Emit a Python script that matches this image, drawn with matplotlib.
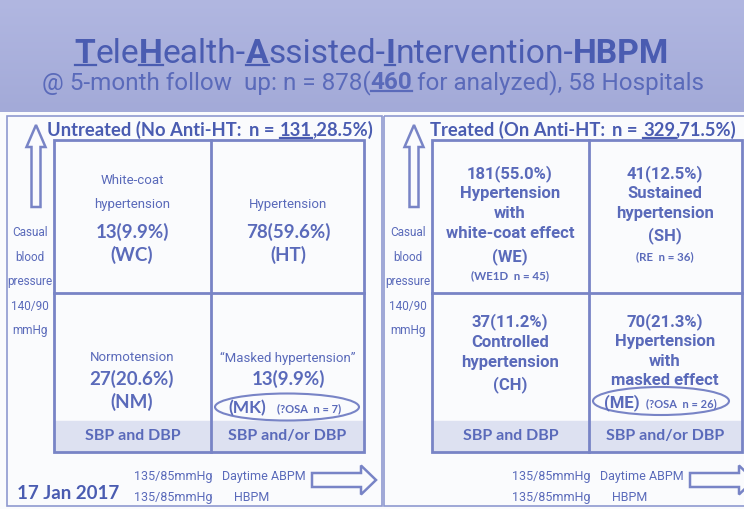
import matplotlib
matplotlib.use('Agg')
import matplotlib.pyplot as plt
import numpy as np
from matplotlib.colors import LinearSegmentedColormap
from matplotlib.patches import Rectangle, Ellipse, FancyArrow

# Data
group_names = ['Untreated (No Anti-HT:', 'Treated (On Anti-HT:']
group_n = [131, 329]
group_pct = [28.5, 71.5]
total_n = 878
analyzed_n = 460
hospitals = 58

untreated_names = [['White-coat', 'hypertension'], ['Hypertension'], ['Normotension'], ['\u201cMasked hypertension\u201d']]
untreated_codes = ['WC', 'HT', 'NM', 'MK']
untreated_counts = [13, 78, 27, 13]
untreated_pct = [9.9, 59.6, 20.6, 9.9]

treated_names = [['Hypertension', 'with', 'white-coat effect'], ['Sustained', 'hypertension'],
                 ['Controlled', 'hypertension'], ['Hypertension', 'with', 'masked effect']]
treated_codes = ['WE', 'SH', 'CH', 'ME']
treated_counts = [181, 41, 37, 70]
treated_pct = [55.0, 12.5, 11.2, 21.3]

osa_n = [7, 26]
we1d_n = 45
re_n = 36
strip_labels = ['SBP and DBP', 'SBP and/or DBP']
side_label = ['Casual', 'blood', 'pressure', '140/90', 'mmHg']

BLUE = '#4a5cb1'
LIGHT = '#5a6aba'
LINE = '#7884c6'
NARROW = ['Roboto', 'DejaVu Sans']
CAL = ['Lato', 'DejaVu Sans']

fig = plt.figure(figsize=(7.44, 5.10), dpi=100)
fig.patch.set_facecolor('#fafbfd')
ax = fig.add_axes([0, 0, 1, 1])
renderer = fig.canvas.get_renderer()


def T(x, y, s, width=None, fontsize=10, **kw):
    # text whose size is fitted to a target width in pixels
    opts = dict(ha='center', va='center', color=LIGHT, zorder=4)
    opts.update(kw)
    t = ax.text(x, y, s, fontsize=fontsize, **opts)
    if width:
        w = t.get_window_extent(renderer).width
        t.set_fontsize(fontsize * width / w)
    return t


def runs(xc, y, parts, width=None, fontsize=12, **common):
    # parts: (text, extra kwargs, underline, gap before)
    items = []
    for s, kw, ul, gap in parts:
        opts = dict(common)
        opts.update(kw)
        items.append([ax.text(0, y, s, va='baseline', ha='left', fontsize=fontsize, **opts), 0, ul, gap])

    def measure():
        for it in items:
            it[1] = it[0].get_window_extent(renderer).width
        return sum(it[1] + it[3] for it in items)

    total = measure()
    if width:
        for it in items:
            it[0].set_fontsize(fontsize * width / total)
        total = measure()
    x = xc - total / 2
    for t, w, ul, gap in items:
        x += gap
        t.set_x(x)
        if ul:
            ax.plot([x, x + w], [y + 3, y + 3], color=t.get_color(), lw=1.6)
        x += w


# header band (soft vertical gradient)
band = LinearSegmentedColormap.from_list('band', ['#b1b7e1', '#a3aad8'])
ax.imshow(np.linspace(0, 1, 50).reshape(-1, 1), cmap=band, aspect='auto',
          extent=(0, 744, 113, 0), zorder=0)
ax.set_xlim(0, 744)
ax.set_ylim(510, 0)
ax.axis('off')

b = dict(fontweight='bold')
runs(372, 63, [('T', b, True, 0), ('ele', {}, False, 0), ('H', b, True, 0), ('ealth-', {}, False, 0),
               ('A', b, True, 0), ('ssisted-', {}, False, 0), ('I', b, True, 0),
               ('ntervention-', {}, False, 0), ('HBPM', b, False, 0)],
     width=593, family=NARROW, fontsize=30, color=BLUE)
runs(373, 89, [('@ 5-month follow  up: n = %d(' % total_n, {}, False, 0),
               (str(analyzed_n), b, True, 0),
               ('for analyzed), %d Hospitals' % hospitals, {}, False, 5)],
     width=663, family=NARROW, fontsize=20, color=LIGHT)

# panel frames
for x0, x1 in [(7, 382), (384, 770)]:
    ax.add_patch(Rectangle((x0, 117), x1 - x0, 390, fill=False, ec='#8f99d0', lw=1.2, zorder=1))

heading_x = [210, 583]
heading_w = [325, 305]

for i in range(2):
    dx = 378 * i
    gx0, gx1, gxm = 54 + dx, 364 + dx, 211 + dx
    gy0, gy1, gym = 141, 453, 294
    # shaded strips
    ax.add_patch(Rectangle((gx0, 422), gx1 - gx0, gy1 - 422, color='#dde1f1', zorder=1))
    ax.add_patch(Rectangle((gx0, gy0), gx1 - gx0, gy1 - gy0, fill=False, ec=LINE, lw=2, zorder=3))
    ax.plot([gxm, gxm], [gy0, gy1], color=LINE, lw=2, zorder=3)
    ax.plot([gx0, gx1], [gym, gym], color=LINE, lw=2, zorder=3)
    for k, s in enumerate(strip_labels):
        cx = (gx0 + gxm) / 2 if k == 0 else (gxm + gx1) / 2
        T(cx, 436, s, family=CAL, fontweight='bold', fontsize=11.5)

    # group heading
    runs(heading_x[i], 136,
         [(group_names[i], {}, False, 0), ('n =', {}, False, 7),
          (str(group_n[i]), {}, True, 6), (',%.1f%%)' % group_pct[i], {}, False, 0)],
         width=heading_w[i], family=CAL, fontweight='bold', fontsize=13.5, color=BLUE)

    # up arrow + side label
    ax.add_patch(FancyArrow(36 + dx, 208, 0, -82, width=9, head_width=19, head_length=22,
                            length_includes_head=True, fc='none', ec=LINE, lw=1.8, zorder=3))
    for j, s in enumerate(side_label):
        T(30 + dx, 233 + j * 24.5, s, family=NARROW, fontsize=8.5)

    # bottom labels and right arrow
    for j, (s1, s2, x2) in enumerate([('135/85mmHg', 'Daytime ABPM', 264), ('135/85mmHg', 'HBPM', 252)]):
        yy = 477 + j * 21
        T(173 + dx, yy, s1, family=NARROW, fontsize=9)
        T(x2 + dx, yy, s2, family=NARROW, fontsize=9)
    ax.add_patch(FancyArrow(312 + dx, 481, 64, 0, width=14, head_width=29, head_length=15,
                            length_includes_head=True, fc='none', ec=LINE, lw=1.8, zorder=3))

# untreated quadrant text
qx_l = [132, 288, 132, 288]
c, pc, nm = untreated_counts, untreated_pct, untreated_names
num_kw = dict(family=CAL, fontweight='bold', fontsize=13.5)
small_kw = dict(family=NARROW, fontsize=9.5)
T(qx_l[0], 181, nm[0][0], **small_kw)
T(qx_l[0], 205, nm[0][1], **small_kw)
T(qx_l[1], 205, nm[1][0], **small_kw)
T(qx_l[2], 358, nm[2][0], **small_kw)
T(qx_l[3], 358, nm[3][0], **small_kw)
for q, yn in zip(range(4), [232, 232, 379, 379]):
    T(qx_l[q], yn, '%d(%.1f%%)' % (c[q], pc[q]), **num_kw)
for q, yc in zip(range(3), [255, 255, 402]):
    T(qx_l[q], yc, '(%s)' % untreated_codes[q], **num_kw)
T(247, 408, '(%s)' % untreated_codes[3], family=CAL, fontweight='bold', fontsize=12.5)
T(309, 409, '(?OSA  n = %d)' % osa_n[0], family=CAL, fontweight='bold', fontsize=8)
ax.add_patch(Ellipse((287, 408), 144, 27, fill=False, ec=LINE, lw=1.5, zorder=3))

# treated quadrant text
qx_r = [510, 665, 510, 665]
t_kw = dict(family=NARROW, fontweight='bold', fontsize=12)
c, pc, nm = treated_counts, treated_pct, treated_names
T(qx_r[0], 174, '%d(%.1f%%)' % (c[0], pc[0]), **t_kw)
for j, s in enumerate(nm[0]):
    T(qx_r[0], 194 + j * 20, s, **t_kw)
T(qx_r[0], 257, '(%s)' % treated_codes[0], **t_kw)
T(qx_r[0], 276, '(WE1D  n = %d)' % we1d_n, family=CAL, fontweight='bold', fontsize=8.3)

T(qx_r[1], 174, '%d(%.1f%%)' % (c[1], pc[1]), **t_kw)
for j, s in enumerate(nm[1]):
    T(qx_r[1], 194 + j * 20, s, **t_kw)
T(qx_r[1], 236, '(%s)' % treated_codes[1], **t_kw)
T(qx_r[1], 257, '(RE  n = %d)' % re_n, family=CAL, fontweight='bold', fontsize=8.3)

T(qx_r[2], 322, '%d(%.1f%%)' % (c[2], pc[2]), **t_kw)
for j, s in enumerate(nm[2]):
    T(qx_r[2], 343 + j * 20, s, **t_kw)
T(qx_r[2], 385, '(%s)' % treated_codes[2], **t_kw)

T(qx_r[3], 322, '%d(%.1f%%)' % (c[3], pc[3]), **t_kw)
for j, s in enumerate(nm[3]):
    T(qx_r[3], 342 + j * 19.5, s, **t_kw)
T(622, 403, '(%s)' % treated_codes[3], **t_kw)
T(681, 404, '(?OSA  n = %d)' % osa_n[1], family=CAL, fontweight='bold', fontsize=8)
ax.add_patch(Ellipse((661, 402), 136, 28, fill=False, ec=LINE, lw=1.5, zorder=3))

# date
T(17, 494, '17 Jan 2017', ha='left', family=CAL, fontweight='bold', fontsize=13.5, color=BLUE)

plt.savefig('out.png', dpi=100)
plt.close()
